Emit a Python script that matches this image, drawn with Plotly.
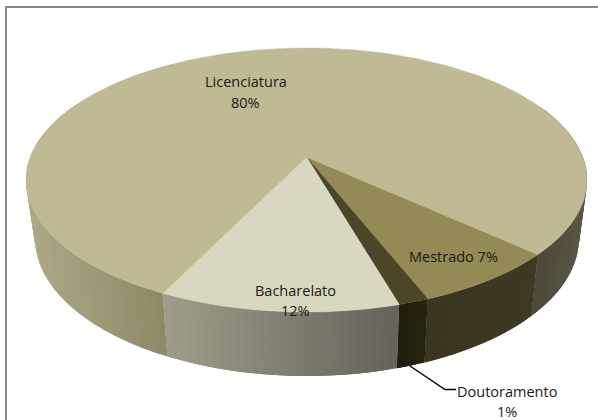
import numpy as np
import plotly.graph_objects as go

# --- data -------------------------------------------------------------
categories = ["Mestrado", "Doutoramento", "Bacharelato", "Licenciatura"]
shares = [7.25, 1.49, 11.75, 79.51]
top_colors = ["#938a55", "#4b4628", "#d8d7c0", "#bfb994"]

# --- drawing constants --------------------------------------------------
W, H = 598, 420
START_DEG = 42.3
TOP = dict(cx=306.5, cy=180, rx=280.5, ry=132)
BOTTOM = dict(cx=307, cy=238, rx=272, ry=138)
K = -0.174  # perspective: moves the pie centre up on screen

# side colours, by (colour at the face's left x, colour at its right x)
SIDE = {
    "Mestrado": ("#3a3520", "#3e3922"),
    "Doutoramento": ("#1f1d10", "#27240f"),
    "Bacharelato": ("#9f9d8a", "#64625a"),
    "Licenciatura_left": ("#aea988", "#8d8866"),
    "Licenciatura_right": ("#4a4736", "#5b5847"),
}


def persp(a):
    """Unit circle angle (radians, clockwise on screen from +x) to perspective-corrected circle."""
    u, v = np.cos(a), np.sin(a)
    d = 1 + K * v
    return u * np.sqrt(1 - K ** 2) / d, (v + K) / d


def place(a, e):
    u, v = persp(a)
    return e["cx"] + e["rx"] * u, e["cy"] + e["ry"] * v


def hex2rgb(c):
    return np.array([int(c[i:i + 2], 16) for i in (1, 3, 5)], float)


def mix(c0, c1, t):
    r = hex2rgb(c0) * (1 - t) + hex2rgb(c1) * t
    return "rgb(%d,%d,%d)" % tuple(np.round(r))


fig = go.Figure()


def poly(xs, ys, color, line=0.0):
    fig.add_trace(go.Scatter(x=xs, y=ys, mode="lines", fill="toself", fillcolor=color,
                             line=dict(color=color, width=line), hoverinfo="skip",
                             showlegend=False))


def side_face(a0, a1, c_left, c_right):
    """Gradient face: each strip runs to the end of the next one, so no seams show."""
    n = max(2, int(np.degrees(a1 - a0) / 1.5))
    grid = np.linspace(a0, a1, n + 1)
    tx, ty = place(grid, TOP)
    bx, by = place(grid, BOTTOM)
    lo, hi = min(tx.min(), bx.min()), max(tx.max(), bx.max())
    for i in range(n):
        j = min(i + 2, n)
        t = ((tx[i] + tx[i + 1] + bx[i] + bx[i + 1]) / 4 - lo) / (hi - lo)
        poly([tx[i], tx[j], bx[j], bx[i], tx[i]],
             [ty[i], ty[j], by[j], by[i], ty[i]], mix(c_left, c_right, t))


# boundaries of the slices, from the values
fractions = np.cumsum([0] + shares) / sum(shares)
edges = np.radians(START_DEG) + 2 * np.pi * fractions

# sides (the top faces drawn afterwards cover any overlap)
side_face(np.radians(-25), edges[0], *SIDE["Licenciatura_right"])
side_face(edges[3], np.radians(205), *SIDE["Licenciatura_left"])
for i in range(3):
    side_face(edges[i], edges[i + 1], *SIDE[categories[i]])

# top faces
for i, c in enumerate(top_colors):
    grid = np.linspace(edges[i], edges[i + 1], max(3, int(np.degrees(edges[i + 1] - edges[i]))))
    x, y = place(grid, TOP)
    ax, ay = TOP["cx"], TOP["cy"] + TOP["ry"] * K
    poly(np.r_[ax, x, ax], np.r_[ay, y, ay], c, line=0.5)

# labels
pct = {c: f"{round(100 * s / sum(shares))}%" for c, s in zip(categories, shares)}
FONT = dict(family="Open Sans, DejaVu Sans, sans-serif", size=14.5, color="#1a1a14")


def label(x, y, text):
    fig.add_annotation(x=x, y=y, text=text, showarrow=False, xanchor="center", yanchor="middle",
                       font=FONT)


label(246, 81, "Licenciatura")
label(245, 102, pct["Licenciatura"])
label(453, 256, f"Mestrado {pct['Mestrado']}")
label(295, 290, "Bacharelato")
label(295, 310, pct["Bacharelato"])
label(507, 391, "Doutoramento")
label(507, 411, pct["Doutoramento"])

# leader line and outer frame
fig.add_trace(go.Scatter(x=[410, 445, 456], y=[366, 389.5, 389.5], mode="lines",
                         line=dict(color="#000000", width=1.5), hoverinfo="skip", showlegend=False))
fig.add_trace(go.Scatter(x=[6, 6, W + 2], y=[H + 2, 7, 7], mode="lines",
                         line=dict(color="#888888", width=2), hoverinfo="skip", showlegend=False))

fig.update_layout(
    width=W, height=H, margin=dict(l=0, r=0, t=0, b=0),
    paper_bgcolor="white", plot_bgcolor="white", showlegend=False,
    xaxis=dict(range=[0, W], visible=False, fixedrange=True),
    yaxis=dict(range=[H, 0], visible=False, fixedrange=True),
)
fig.write_html("out.html", config={"displayModeBar": False},
               post_script="document.body.style.margin='0';document.body.style.overflow='hidden';")
